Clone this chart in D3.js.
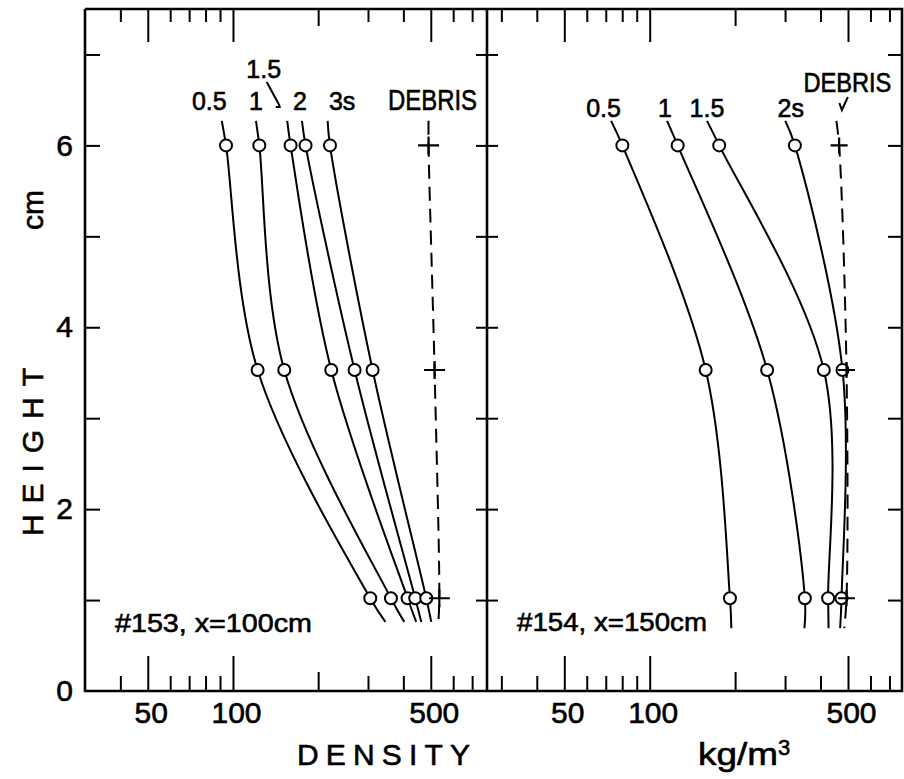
<!DOCTYPE html>
<html><head><meta charset="utf-8">
<script src="https://cdn.jsdelivr.net/npm/d3@7"></script>
<style>
html,body{margin:0;padding:0;background:#fff;}
svg{display:block;}
text{font-family:"Liberation Sans",Arial,sans-serif;fill:#000;stroke:#000;stroke-width:0.6px;}
</style>
</head><body>
<svg id="c" width="904" height="779"></svg>
<script>
// ---------------- DATA ----------------
const heights = [6, 3.53, 1.02];          // cm, measurement heights
const topExtHeight = 6.27;                 // end of leader segment above top point
const bottomExtHeight153 = 0.76;           // extrapolated end below lowest point
const bottomExtHeight154 = 0.69;

const heightTicks = [1, 2, 3, 4, 5, 6, 7];
const heightTickLabels = [0, 2, 4, 6];
const densityTicks153 = [40, 50, 60, 70, 80, 90, 100, 200, 300, 400, 500, 600, 700];
const densityTicks154 = [30, 40, 50, 60, 70, 80, 90, 100, 200, 300, 400, 500, 600, 700];
const densityTickLabels = [50, 100, 500];

// Run #153, x = 100 cm  (density kg/m3 at heights 6, 3.53, 1.02 cm)
const labels153 = ["0.5", "1", "1.5", "2", "3s"];
const rho153_05 = [94.5, 122.2, 305.6];
const rho153_1  = [123.9, 151.8, 361.6];
const rho153_15 = [159.8, 222.5, 414];
const rho153_2  = [180.5, 269, 440.6];
const rho153_3  = [220.2, 311.4, 482];
const top153    = [91.3, 120.6, 155.5, 175.3, 216];
const bottom153 = [345.6, 403, 444, 463, 502];
const debris153 = [491, 515.7, 536];
const debrisTop153 = 491, debrisBottom153 = 532;

// Run #154, x = 150 cm
const labels154 = ["0.5", "1", "1.5", "2s"];
const rho154_05 = [80.1, 157.5, 191.8];
const rho154_1  = [125.5, 259.4, 352.3];
const rho154_15 = [175.8, 410.9, 425.5];
const rho154_2  = [324.9, 478.2, 474.3];
const top154    = [73.1, 115.1, 159.2, 300.6];
const bottom154 = [194, 351, 427, 469];
const debris154 = [465.3, 494, 494];
const debrisTop154 = 455, debrisBottom154 = 485;

// ---------------- LAYOUT ----------------
const svg = d3.select("#c");
const yTop = 9, yBot = 691, xL = 85, xM = 487, xR = 902;
const ys = d3.scaleLinear().domain([0, 7.5]).range([yBot, yTop]);
const xs153 = d3.scaleLog().domain([30, 790]).range([xL, xM]);
const xs154 = d3.scaleLog().domain([26.7, 775]).range([xM, xR]);
const FONT = '"Liberation Sans", Arial, sans-serif';

function tickLen(d) { return densityTickLabels.includes(d) ? 35 : (d === 200 ? 19 : 15); }

function xAxes(xs, ticks) {
  const gB = svg.append("g").attr("transform", `translate(0,${yBot})`)
    .call(d3.axisBottom(xs).tickValues(ticks).tickSize(-15).tickPadding(10.7)
      .tickFormat(d => densityTickLabels.includes(d) ? d : ""));
  gB.select(".domain").remove();
  gB.attr("font-size", 30).attr("font-family", FONT);
  gB.selectAll(".tick line").attr("y2", d => -tickLen(d)).attr("stroke-width", 2);
  gB.selectAll(".tick text").attr("dx", 3);
  const gT = svg.append("g").attr("transform", `translate(0,${yTop})`)
    .call(d3.axisTop(xs).tickValues(ticks).tickSize(-15).tickFormat(""));
  gT.select(".domain").remove();
  gT.selectAll(".tick line").attr("y2", d => tickLen(d) - 2).attr("stroke-width", 2);
}
xAxes(xs153, densityTicks153);
xAxes(xs154, densityTicks154);

// y axes
const gY = svg.append("g").attr("transform", `translate(${xL},0)`)
  .call(d3.axisLeft(ys).tickValues([0, ...heightTicks]).tickSize(-15).tickPadding(12)
    .tickFormat(d => heightTickLabels.includes(d) ? d : ""));
gY.select(".domain").remove();
gY.attr("font-size", 30).attr("font-family", FONT);
gY.selectAll(".tick line").attr("stroke-width", 2).filter(d => d === 0).remove();

[d3.axisLeft(ys).tickSize(11), d3.axisRight(ys).tickSize(11)].forEach(ax => {
  const g = svg.append("g").attr("transform", `translate(${xM},0)`)
    .call(ax.tickValues(heightTicks).tickFormat(""));
  g.select(".domain").remove();
  g.selectAll(".tick line").attr("stroke-width", 2);
});
const gR = svg.append("g").attr("transform", `translate(${xR},0)`)
  .call(d3.axisRight(ys).tickValues(heightTicks).tickSize(-14).tickFormat(""));
gR.select(".domain").remove();
gR.selectAll(".tick line").attr("stroke-width", 2);

// frame
const frame = svg.append("g").attr("stroke", "#000").attr("stroke-width", 2.6).attr("fill", "none");
frame.append("path").attr("d",
  `M${xL},${yTop}V${yBot}H${xR}V${yTop}H${xL}M${xM},${yTop}V${yBot}`);

// ---------------- SERIES ----------------
function drawPanel(xs, seriesVals, tops, bottoms, bottomExtH, debrisVals, dTop, dBot, plusW, plusH) {
  const line = d3.line().x(d => xs(d[0])).y(d => ys(d[1])).curve(d3.curveCatmullRom.alpha(0.5));
  const g = svg.append("g");
  seriesVals.forEach((vals, i) => {
    const pts = [[tops[i], topExtHeight], ...vals.map((v, j) => [v, heights[j]]), [bottoms[i], bottomExtH]];
    g.append("path").attr("d", line(pts)).attr("fill", "none").attr("stroke", "#000").attr("stroke-width", 2);
  });
  const dpts = [[dTop, topExtHeight], ...debrisVals.map((v, j) => [v, heights[j]]), [dBot, bottomExtH]];
  g.append("path").attr("d", line(dpts)).attr("fill", "none").attr("stroke", "#000")
    .attr("stroke-width", 2).attr("stroke-dasharray", "14,8");
  seriesVals.forEach(vals => {
    g.selectAll(null).data(vals).enter().append("circle")
      .attr("cx", d => xs(d)).attr("cy", (d, j) => ys(heights[j])).attr("r", 6)
      .attr("fill", "#fff").attr("stroke", "#000").attr("stroke-width", 2);
  });
  g.selectAll(null).data(debrisVals).enter().append("path")
    .attr("d", (d, j) => {
      const x = xs(d), y = ys(heights[j]);
      return `M${x - plusW},${y}H${x + plusW}M${x},${y - plusH}V${y + plusH}`;
    })
    .attr("stroke", "#000").attr("stroke-width", 2.2).attr("fill", "none");
}

drawPanel(xs153, [rho153_05, rho153_1, rho153_15, rho153_2, rho153_3], top153, bottom153,
  bottomExtHeight153, debris153, debrisTop153, debrisBottom153, 10.5, 9);
drawPanel(xs154, [rho154_05, rho154_1, rho154_15, rho154_2], top154, bottom154,
  bottomExtHeight154, debris154, debrisTop154, debrisBottom154, 8.5, 8);

// ---------------- LABELS ----------------
function txt(x, y, s, size, opts = {}) {
  const t = svg.append("text").attr("x", x).attr("y", y).attr("font-size", size)
    .attr("text-anchor", opts.anchor || "middle").text(s);
  if (opts.len) t.attr("textLength", opts.len).attr("lengthAdjust", opts.adj || "spacingAndGlyphs");
  if (opts.rot) t.attr("transform", `rotate(-90,${x},${y})`);
  return t;
}
// series labels, placed relative to the leader end
const off153 = [{dx: -12.5, y: 110}, {dx: 0, y: 110}, {dx: -23.5, y: 78}, {dx: -2, y: 110}, {dx: 14.5, y: 110}];
labels153.forEach((l, i) => txt(xs153(top153[i]) + off153[i].dx, off153[i].y, l, 25));
txt(xs153(debrisTop153) + 4, 110, "DEBRIS", 30, {len: 89});
// arrow from "1.5"
{
  const lx = xs153(top153[2]) - 23.5;
  svg.append("path").attr("d", `M${lx + 3},${82}L${lx + 16},${106}M${lx + 12},${107}L${lx + 17},${107}`)
    .attr("stroke", "#000").attr("stroke-width", 2).attr("fill", "none");
}
const off154 = [{dx: -7.5}, {dx: -2}, {dx: 0}, {dx: 5.5}];
labels154.forEach((l, i) => txt(xs154(top154[i]) + off154[i].dx, 117, l, 25));
txt(xs154(debrisTop154) + 11, 92, "DEBRIS", 27, {len: 88});
{
  const dx = xs154(debrisTop154);
  svg.append("path").attr("d", `M${dx + 3},${103}L${dx + 5.5},${110}L${dx + 11.5},${97}`)
    .attr("stroke", "#000").attr("stroke-width", 2).attr("fill", "none");
}

txt(115, 632, "#153, x=100cm", 26.5, {anchor: "start", len: 197});
txt(517, 631, "#154, x=150cm", 26.5, {anchor: "start", len: 190});

// axis titles
txt(383.5, 765, "DENSITY", 30, {len: 173, adj: "spacing"});
const kg = svg.append("text").attr("x", 698).attr("y", 765).attr("font-size", 32).attr("text-anchor", "start");
kg.append("tspan").text("kg/m").attr("textLength", 80).attr("lengthAdjust", "spacingAndGlyphs");
kg.append("tspan").text("3").attr("font-size", 22).attr("dy", -10);

txt(43, 452, "HEIGHT", 30, {rot: true, len: 168, adj: "spacing"});
txt(43, 210, "cm", 30, {rot: true});
</script>
</body></html>
